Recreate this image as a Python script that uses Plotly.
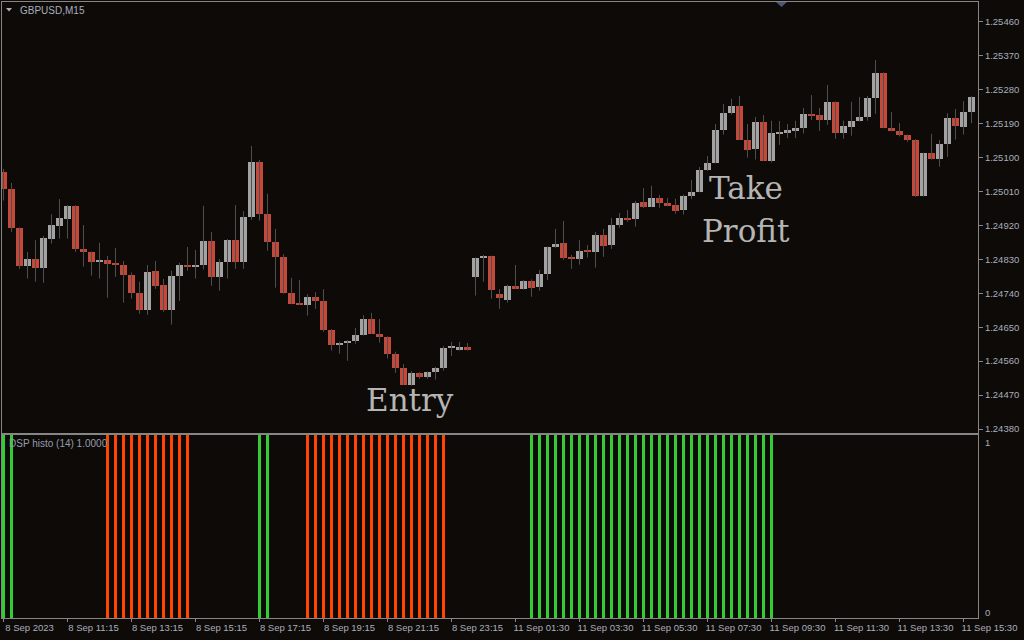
import pandas as pd
import plotly.graph_objects as go

# ---------------- data ----------------
SYMBOL_LABEL = "GBPUSD,M15"
INDICATOR_LABEL = "DSP histo (14) 1.0000"

# M15 bar times: Fri 8 Sep 2023 09:15-23:45, Mon 11 Sep 2023 00:15-15:45
TIMES = (list(pd.date_range("2023-09-08 09:15", "2023-09-08 23:45", freq="15min"))
         + list(pd.date_range("2023-09-11 00:15", "2023-09-11 15:45", freq="15min")))
CATS = [t.strftime("%Y-%m-%d %H:%M") for t in TIMES]

OPEN = [1.25062, 1.25018, 1.24914, 1.24813, 1.24831, 1.24808, 1.24885, 1.24918, 1.24938, 1.24972,
        1.24858, 1.24850, 1.24824, 1.24828, 1.24819, 1.24816, 1.24789, 1.24742, 1.24696, 1.24798,
        1.24762, 1.24697, 1.24786, 1.24815, 1.24811, 1.24814, 1.24880, 1.24784, 1.24822, 1.24881,
        1.24824, 1.24942, 1.25088, 1.24951, 1.24877, 1.24837, 1.24742, 1.24714, 1.24710, 1.24730,
        1.24720, 1.24643, 1.24604, 1.24607, 1.24613, 1.24630, 1.24672, 1.24633, 1.24625, 1.24580,
        1.24543, 1.24498, 1.24529, 1.24519, 1.24530, 1.24542, 1.24595, 1.24590, 1.24598, 1.24784,
        1.24834, 1.24839, 1.24738, 1.24723, 1.24759, 1.24752, 1.24773, 1.24756, 1.24791, 1.24862,
        1.24873, 1.24837, 1.24832, 1.24853, 1.24850, 1.24895, 1.24867, 1.24920, 1.24940, 1.24938,
        1.24981, 1.24970, 1.24993, 1.24980, 1.24975, 1.24962, 1.24999, 1.25009, 1.25066, 1.25086,
        1.25173, 1.25219, 1.25237, 1.25148, 1.25122, 1.25195, 1.25092, 1.25163, 1.25166, 1.25172,
        1.25178, 1.25216, 1.25214, 1.25201, 1.25248, 1.25166, 1.25181, 1.25197, 1.25207, 1.25258,
        1.25325, 1.25179, 1.25170, 1.25160, 1.25148, 1.24999, 1.25112, 1.25096, 1.25136, 1.25205,
        1.25181, 1.25220]
HIGH = [1.25070, 1.25033, 1.24915, 1.24850, 1.24881, 1.24892, 1.24950, 1.24990, 1.24974, 1.24974,
        1.24921, 1.24851, 1.24874, 1.24839, 1.24860, 1.24826, 1.24795, 1.24771, 1.24815, 1.24826,
        1.24778, 1.24800, 1.24821, 1.24863, 1.24855, 1.24972, 1.24903, 1.24831, 1.24884, 1.24974,
        1.24958, 1.25131, 1.25094, 1.25004, 1.24911, 1.24844, 1.24781, 1.24775, 1.24738, 1.24743,
        1.24751, 1.24645, 1.24612, 1.24616, 1.24648, 1.24682, 1.24688, 1.24672, 1.24626, 1.24585,
        1.24552, 1.24534, 1.24531, 1.24532, 1.24545, 1.24600, 1.24611, 1.24611, 1.24608, 1.24835,
        1.24842, 1.24840, 1.24751, 1.24763, 1.24815, 1.24775, 1.24777, 1.24802, 1.24864, 1.24911,
        1.24932, 1.24842, 1.24881, 1.24868, 1.24903, 1.24911, 1.24940, 1.24953, 1.24961, 1.24985,
        1.25019, 1.25025, 1.25001, 1.24993, 1.24991, 1.25002, 1.25041, 1.25075, 1.25104, 1.25189,
        1.25242, 1.25256, 1.25264, 1.25189, 1.25208, 1.25213, 1.25198, 1.25197, 1.25189, 1.25198,
        1.25232, 1.25266, 1.25232, 1.25293, 1.25249, 1.25198, 1.25248, 1.25261, 1.25264, 1.25359,
        1.25326, 1.25221, 1.25192, 1.25161, 1.25149, 1.25113, 1.25163, 1.25147, 1.25218, 1.25229,
        1.25250, 1.25263]
LOW = [1.24986, 1.24903, 1.24805, 1.24779, 1.24771, 1.24768, 1.24872, 1.24885, 1.24885, 1.24850,
       1.24811, 1.24787, 1.24779, 1.24728, 1.24784, 1.24715, 1.24726, 1.24686, 1.24683, 1.24752,
       1.24691, 1.24657, 1.24720, 1.24800, 1.24779, 1.24803, 1.24760, 1.24747, 1.24779, 1.24805,
       1.24805, 1.24935, 1.24933, 1.24853, 1.24755, 1.24739, 1.24711, 1.24709, 1.24681, 1.24699,
       1.24638, 1.24588, 1.24580, 1.24561, 1.24606, 1.24628, 1.24632, 1.24609, 1.24567, 1.24529,
       1.24497, 1.24495, 1.24513, 1.24513, 1.24511, 1.24535, 1.24574, 1.24588, 1.24588, 1.24734,
       1.24771, 1.24726, 1.24699, 1.24715, 1.24751, 1.24750, 1.24731, 1.24747, 1.24775, 1.24861,
       1.24829, 1.24805, 1.24816, 1.24835, 1.24808, 1.24837, 1.24858, 1.24914, 1.24930, 1.24917,
       1.24966, 1.24969, 1.24967, 1.24971, 1.24951, 1.24949, 1.24990, 1.25008, 1.25065, 1.25085,
       1.25161, 1.25214, 1.25147, 1.25100, 1.25095, 1.25091, 1.25087, 1.25134, 1.25152, 1.25152,
       1.25164, 1.25200, 1.25171, 1.25187, 1.25150, 1.25150, 1.25158, 1.25196, 1.25198, 1.25216,
       1.25178, 1.25170, 1.25156, 1.25142, 1.24996, 1.24997, 1.25095, 1.25076, 1.25102, 1.25148,
       1.25161, 1.25191]
CLOSE = [1.25018, 1.24914, 1.24813, 1.24831, 1.24808, 1.24887, 1.24921, 1.24940, 1.24972, 1.24858,
         1.24850, 1.24824, 1.24828, 1.24819, 1.24816, 1.24789, 1.24742, 1.24697, 1.24797, 1.24760,
         1.24697, 1.24786, 1.24815, 1.24811, 1.24815, 1.24879, 1.24784, 1.24823, 1.24881, 1.24824,
         1.24943, 1.25088, 1.24951, 1.24877, 1.24837, 1.24742, 1.24712, 1.24710, 1.24730, 1.24720,
         1.24643, 1.24604, 1.24608, 1.24613, 1.24629, 1.24672, 1.24633, 1.24625, 1.24580, 1.24543,
         1.24498, 1.24529, 1.24519, 1.24531, 1.24542, 1.24595, 1.24598, 1.24598, 1.24590, 1.24834,
         1.24839, 1.24750, 1.24728, 1.24759, 1.24752, 1.24773, 1.24755, 1.24791, 1.24863, 1.24871,
         1.24835, 1.24832, 1.24852, 1.24850, 1.24895, 1.24866, 1.24921, 1.24940, 1.24937, 1.24980,
         1.24970, 1.24993, 1.24980, 1.24972, 1.24959, 1.24998, 1.25009, 1.25067, 1.25086, 1.25173,
         1.25218, 1.25237, 1.25148, 1.25121, 1.25195, 1.25092, 1.25165, 1.25168, 1.25173, 1.25179,
         1.25216, 1.25213, 1.25201, 1.25248, 1.25166, 1.25184, 1.25197, 1.25208, 1.25258, 1.25325,
         1.25179, 1.25171, 1.25161, 1.25148, 1.24999, 1.25112, 1.25096, 1.25136, 1.25205, 1.25185,
         1.25221, 1.25261]

# DSP histo state per bar: 1 = up (green), -1 = down (orange), 0 = no bar
DSP_SIGNAL = ([1] * 2 + [0] * 11 + [-1] * 11 + [0] * 8 + [1] * 2 + [0] * 4
              + [-1] * 18 + [0] * 10 + [1] * 31 + [0] * 25)

PRICE_TICKS = [1.24380, 1.24470, 1.24560, 1.24650, 1.24740, 1.24830, 1.24920,
               1.25010, 1.25100, 1.25190, 1.25280, 1.25370, 1.25460]
TICK_TIMES = ["2023-09-08 09:15", "2023-09-08 11:15", "2023-09-08 13:15", "2023-09-08 15:15",
              "2023-09-08 17:15", "2023-09-08 19:15", "2023-09-08 21:15", "2023-09-08 23:15",
              "2023-09-11 01:30", "2023-09-11 03:30", "2023-09-11 05:30", "2023-09-11 07:30",
              "2023-09-11 09:30", "2023-09-11 11:30", "2023-09-11 13:30", "2023-09-11 15:30"]
TICK_LABELS = ["8 Sep 2023", "8 Sep 11:15", "8 Sep 13:15", "8 Sep 15:15", "8 Sep 17:15",
               "8 Sep 19:15", "8 Sep 21:15", "8 Sep 23:15", "11 Sep 01:30", "11 Sep 03:30",
               "11 Sep 05:30", "11 Sep 07:30", "11 Sep 09:30", "11 Sep 11:30", "11 Sep 13:30",
               "11 Sep 15:30"]

# ---------------- style ----------------
BG = "#0d0a08"
FRAME = "#868686"
TXT = "#a9afbc"
BULL = "#a3a3a3"
BEAR = "#c4493a"
WICK = "#4e4e4e"
UP_HIST = "#32cd32"
DN_HIST = "#ff4500"
FONT = "Liberation Sans"

W, H = 1024, 640
ML, MR, MT, MB = 2, 46, 2, 22
PW, PH = W - ML - MR, H - MT - MB


def px(x):
    return (x - ML) / PW


def py(y):
    return (H - MB - y) / PH


fig = go.Figure()

# wicks
wx, wy = [], []
for c, h, l in zip(CATS, HIGH, LOW):
    wx += [c, c, None]
    wy += [h, l, None]
fig.add_trace(go.Scatter(x=wx, y=wy, mode="lines", line=dict(color=WICK, width=1),
                         xaxis="x", yaxis="y", hoverinfo="skip"))

# bodies
base = [min(o, c) for o, c in zip(OPEN, CLOSE)]
body = [abs(c - o) for o, c in zip(OPEN, CLOSE)]
cols = [BULL if c >= o else BEAR for o, c in zip(OPEN, CLOSE)]
fig.add_trace(go.Bar(x=CATS, y=body, base=base, width=0.875,
                     marker=dict(color=cols, line=dict(width=0)),
                     xaxis="x", yaxis="y", hoverinfo="skip"))

# histogram
fig.add_trace(go.Bar(x=CATS, y=[abs(s) for s in DSP_SIGNAL], width=0.375,
                     marker=dict(color=[UP_HIST if s > 0 else DN_HIST for s in DSP_SIGNAL],
                                 line=dict(width=0)),
                     xaxis="x2", yaxis="y2", hoverinfo="skip"))

xr = [-0.1875, len(CATS) - 0.1875]
main_bottom = py(433)
sub_top = py(435)
y_lo = PRICE_TICKS[0] - 4 * 0.0009 / 33.92
y_hi = PRICE_TICKS[0] + 427 * 0.0009 / 33.92

axis_common = dict(showgrid=False, zeroline=False, showline=True, mirror=True,
                   linecolor=FRAME, linewidth=1)

fig.update_layout(
    width=W, height=H, template="none",
    paper_bgcolor=BG, plot_bgcolor=BG,
    margin=dict(l=ML, r=MR, t=MT, b=MB, pad=0),
    showlegend=False, bargap=0, barmode="overlay",
    font=dict(family=FONT, size=10, color=TXT),
    xaxis=dict(domain=[0, 1], anchor="y", type="category", range=xr,
               categoryorder="array", categoryarray=CATS,
               showticklabels=False, ticks="", **axis_common),
    yaxis=dict(domain=[main_bottom, 1], anchor="x", side="right", range=[y_lo, y_hi],
               tickvals=PRICE_TICKS, tickformat=".5f", ticks="outside", ticklen=4,
               tickcolor=FRAME, tickfont=dict(family=FONT, size=9.5, color=TXT),
               automargin=False, **axis_common),
    xaxis2=dict(domain=[0, 1], anchor="y2", type="category", range=xr,
                categoryorder="array", categoryarray=CATS,
                tickvals=TICK_TIMES, ticktext=TICK_LABELS, ticks="outside", ticklen=3,
                tickcolor=FRAME, tickfont=dict(family=FONT, size=9.5, color=TXT),
                ticklabelshift=26, ticklabelstandoff=-2, automargin=False, **axis_common),
    yaxis2=dict(domain=[0, sub_top], anchor="x2", side="right", range=[0, 1],
                showticklabels=False, ticks="", automargin=False, **axis_common),
)

ann = dict(xref="paper", yref="paper", showarrow=False)
fig.add_annotation(x=px(18), y=py(10), text=SYMBOL_LABEL, xanchor="left", yanchor="middle",
                   font=dict(family=FONT, size=10, color=TXT), **ann)
fig.add_annotation(x=px(7), y=py(444), text=INDICATOR_LABEL, xanchor="left", yanchor="middle",
                   font=dict(family=FONT, size=10, color="#959cab"), **ann)
fig.add_annotation(x=px(983), y=py(442), text="1", xanchor="left", yanchor="middle",
                   font=dict(family=FONT, size=9.5, color=TXT), **ann)
fig.add_annotation(x=px(983), y=py(612), text="0", xanchor="left", yanchor="middle",
                   font=dict(family=FONT, size=9.5, color=TXT), **ann)
big = dict(family="DejaVu Serif", size=31, color="#b5b5b5")
fig.add_annotation(x=px(410), y=py(400), text="Entry", xanchor="center", yanchor="middle",
                   font=big, **ann)
fig.add_annotation(x=px(746), y=py(188), text="Take", xanchor="center", yanchor="middle",
                   font=big, **ann)
fig.add_annotation(x=px(746), y=py(231), text="Profit", xanchor="center", yanchor="middle",
                   font=big, **ann)

# small MT4 markers (symbol dropdown triangle, chart shift triangle)
fig.add_shape(type="path", xref="paper", yref="paper",
              path=f"M {px(6)},{py(8)} L {px(12)},{py(8)} L {px(9)},{py(11.5)} Z",
              fillcolor=TXT, line=dict(width=0))
fig.add_shape(type="path", xref="paper", yref="paper",
              path=f"M {px(776)},{py(2)} L {px(787)},{py(2)} L {px(781.5)},{py(7)} Z",
              fillcolor="#4a5878", line=dict(width=0))

fig.write_html("out.html", config={"displayModeBar": False},
               post_script="document.body.style.margin='0';")
